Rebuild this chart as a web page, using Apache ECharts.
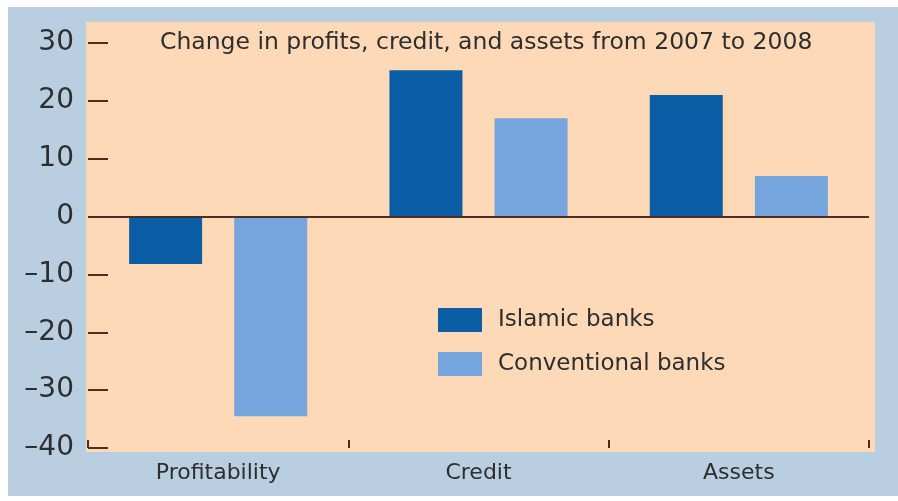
<!DOCTYPE html>
<html>
<head>
<meta charset="utf-8">
<script src="https://cdn.jsdelivr.net/npm/echarts@6/dist/echarts.min.js"></script>
<style>
html, body { margin: 0; padding: 0; background: #ffffff; }
#chart { width: 898px; height: 501px; }
</style>
</head>
<body>
<div id="chart"></div>
<script>
var categories = ['Profitability', 'Credit', 'Assets']
var islamicBanks = [-8.2, 25.3, 21.0]
var conventionalBanks = [-34.5, 17.0, 7.0]
var yTicks = { min: -40, max: 30, interval: 10 }
var chartTitle = 'Change in profits, credit, and assets from 2007 to 2008'

var chart = echarts.init(document.getElementById('chart'))
var brown = '#4a3020'
var textColor = '#2e2e2e'
var font = '"DejaVu Sans", Arial, sans-serif'

chart.setOption({
  animation: false,
  textStyle: { fontFamily: font },
  graphic: [
    { type: 'rect', z: -10, shape: { x: 8, y: 7, width: 890, height: 489 }, style: { fill: '#b9cfe1' } },
    { type: 'rect', z: -9, shape: { x: 86, y: 22, width: 789, height: 430 }, style: { fill: '#fdd9b8' } },
    {
      type: 'text', left: 160, top: 31, z: 10,
      style: { text: chartTitle, fill: textColor, font: '23.5px ' + font }
    }
  ],
  grid: { left: 88, top: 43, width: 781, height: 405, containLabel: false },
  legend: {
    orient: 'vertical',
    left: 433, top: 303,
    itemWidth: 44, itemHeight: 24, itemGap: 20,
    icon: 'rect',
    textStyle: { fontSize: 23, color: textColor, fontFamily: font, padding: [0, 0, 0, 11] },
    data: ['Islamic banks', 'Conventional banks']
  },
  xAxis: {
    type: 'category',
    data: categories,
    axisLine: { show: false, onZero: false },
    axisTick: { show: true, inside: true, length: 8, lineStyle: { color: brown, width: 2 } },
    axisLabel: { fontSize: 22, color: textColor, margin: 14, fontFamily: font }
  },
  yAxis: {
    type: 'value',
    min: yTicks.min, max: yTicks.max, interval: yTicks.interval,
    axisLine: { show: false },
    axisTick: { show: true, inside: true, length: 20, lineStyle: { color: brown, width: 2 } },
    splitLine: { show: false },
    axisLabel: {
      fontSize: 28, color: textColor, margin: 14, fontFamily: font,
      formatter: function (v) { return v < 0 ? '\u2013' + Math.abs(v) : String(v) }
    }
  },
  series: [
    {
      name: 'Islamic banks', type: 'bar', data: islamicBanks,
      barWidth: 73, barGap: '44%',
      itemStyle: { color: '#0b5ea5' },
      markLine: {
        silent: true, symbol: 'none', label: { show: false },
        lineStyle: { color: brown, width: 2, type: 'solid' },
        data: [{ yAxis: 0 }]
      }
    },
    {
      name: 'Conventional banks', type: 'bar', data: conventionalBanks,
      barWidth: 73, barGap: '44%',
      itemStyle: { color: '#75a5dc' }
    }
  ]
})
</script>
</body>
</html>
